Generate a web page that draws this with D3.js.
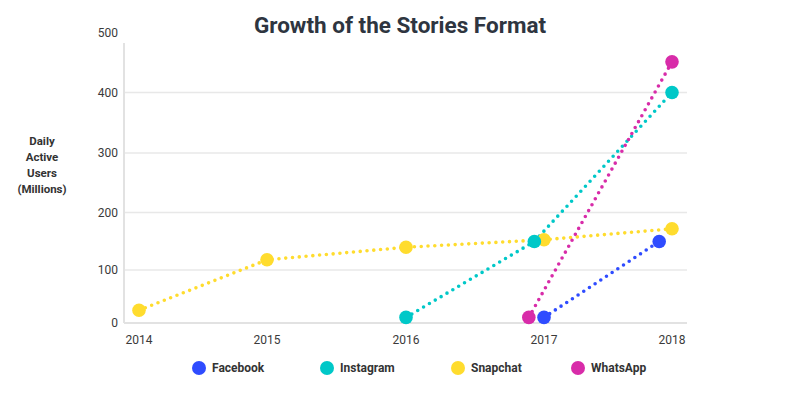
<!DOCTYPE html>
<html>
<head>
<meta charset="utf-8">
<script src="https://cdn.jsdelivr.net/npm/d3@7"></script>
<style>
  body { margin: 0; background: #fff; }
  svg { font-family: Roboto, "Open Sans", sans-serif; }
</style>
</head>
<body>
<div id="chart"></div>
<script>
// years on the x axis, y axis ticks
const years = [2014, 2015, 2016, 2017, 2018];
const yTicks = [0, 100, 200, 300, 400, 500];

// each series: x as fractional year, y in millions
const facebookX = [2017.0, 2017.9];
const facebookY = [12, 150];
const instagramX = [2016.0, 2016.93, 2018.0];
const instagramY = [12, 150, 400];
const snapchatX = [2014, 2015, 2016, 2017, 2018];
const snapchatY = [26, 118, 140, 153, 172];
const whatsappX = [2016.89, 2018.0];
const whatsappY = [12, 450];

const names = ["Facebook", "Instagram", "Snapchat", "WhatsApp"];
const colors = ["#2f4cff", "#00c8c8", "#ffdc2e", "#d82ca9"];

const width = 807, height = 397;

const svg = d3.select("#chart").append("svg")
  .attr("width", width)
  .attr("height", height);

// x spacing in the source is uneven, so map each year to its own spot
const x = d3.scaleLinear()
  .domain(years)
  .range([139, 267, 406, 544, 672]);

const y = d3.scalePow()
  .exponent(1.06)
  .domain([0, 500])
  .range([323, 31]);

const left = 124, right = 687;

// gridlines
svg.append("g")
  .selectAll("line")
  .data(yTicks.filter(d => d > 0 && d < 500))
  .join("line")
  .attr("x1", left).attr("x2", right)
  .attr("y1", d => y(d)).attr("y2", d => y(d))
  .attr("stroke", "#e8e8e8")
  .attr("stroke-width", 1.5);

// axis lines
svg.append("line")
  .attr("x1", left).attr("x2", left)
  .attr("y1", 43).attr("y2", y(0))
  .attr("stroke", "#e2e2e2").attr("stroke-width", 2);
svg.append("line")
  .attr("x1", left).attr("x2", right)
  .attr("y1", y(0)).attr("y2", y(0))
  .attr("stroke", "#e2e2e2").attr("stroke-width", 2);

// y tick labels
svg.append("g")
  .selectAll("text")
  .data(yTicks)
  .join("text")
  .attr("x", 118)
  .attr("y", d => d === 500 ? y(d) + 2 : y(d))
  .attr("dy", "0.35em")
  .attr("text-anchor", "end")
  .attr("font-size", 12)
  .attr("fill", "#3a3a3a")
  .text(d => d);

// x tick labels
svg.append("g")
  .selectAll("text")
  .data(years)
  .join("text")
  .attr("x", d => x(d))
  .attr("y", 340)
  .attr("dy", "0.35em")
  .attr("text-anchor", "middle")
  .attr("font-size", 12)
  .attr("fill", "#3a3a3a")
  .text(d => d);

// title
svg.append("text")
  .attr("x", 400)
  .attr("y", 33)
  .attr("text-anchor", "middle")
  .attr("font-size", 22.5)
  .attr("font-weight", "bold")
  .attr("fill", "#2e3540")
  .text("Growth of the Stories Format");

// y axis title
svg.append("text")
  .attr("text-anchor", "middle")
  .attr("font-size", 11.5)
  .attr("font-weight", "bold")
  .attr("fill", "#333")
  .selectAll("tspan")
  .data(["Daily", "Active", "Users", "(Millions)"])
  .join("tspan")
  .attr("x", 42)
  .attr("y", (d, i) => 145 + i * 16)
  .text(d => d);

const series = [
  { xs: facebookX, ys: facebookY },
  { xs: instagramX, ys: instagramY },
  { xs: snapchatX, ys: snapchatY },
  { xs: whatsappX, ys: whatsappY }
].map((s, i) => ({
  name: names[i],
  color: colors[i],
  points: s.xs.map((v, j) => [v, s.ys[j]])
}));

const line = d3.line()
  .x(d => x(d[0]))
  .y(d => y(d[1]));

// draw order: snapchat first so the others sit on top
const order = [2, 1, 0, 3];
order.forEach(i => {
  const s = series[i];
  svg.append("path")
    .datum(s.points)
    .attr("d", line)
    .attr("fill", "none")
    .attr("stroke", s.color)
    .attr("stroke-width", 3.6)
    .attr("stroke-linecap", "round")
    .attr("stroke-dasharray", "0 6.8");
});
order.forEach(i => {
  const s = series[i];
  svg.append("g")
    .selectAll("circle")
    .data(s.points)
    .join("circle")
    .attr("cx", d => x(d[0]))
    .attr("cy", d => y(d[1]))
    .attr("r", 6.8)
    .attr("fill", s.color);
});

// legend
const legendX = [199, 327, 458, 578];
const legend = svg.append("g")
  .selectAll("g")
  .data(series)
  .join("g")
  .attr("transform", (d, i) => `translate(${legendX[i]},368)`);
legend.append("circle")
  .attr("r", 7)
  .attr("fill", d => d.color);
legend.append("text")
  .attr("x", 13)
  .attr("dy", "0.35em")
  .attr("font-size", 12)
  .attr("font-weight", "bold")
  .attr("fill", "#333")
  .text(d => d.name);
</script>
</body>
</html>
